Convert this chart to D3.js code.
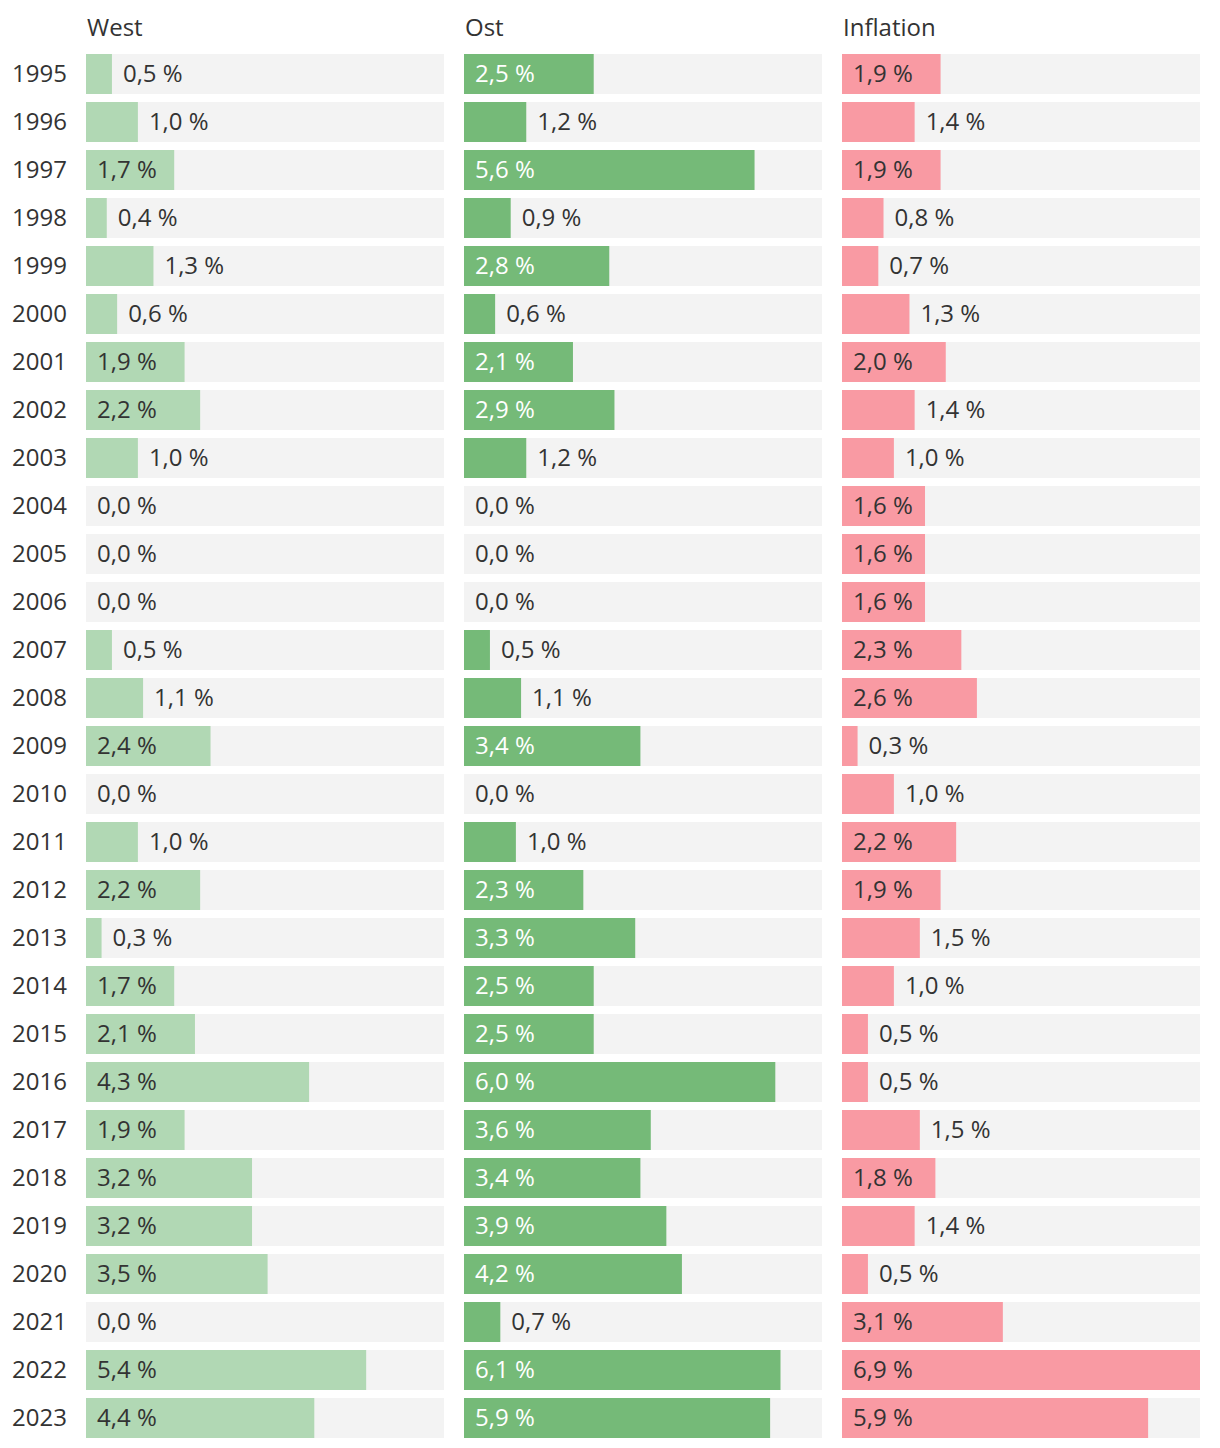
<!DOCTYPE html>
<html><head><meta charset="utf-8">
<script src="https://cdn.jsdelivr.net/npm/d3@7"></script>
<style>body{margin:0;background:#fff;font-family:"Open Sans",sans-serif;}</style>
</head><body><svg id="c" width="1220" height="1448"></svg>
<script>
const years = [1995,1996,1997,1998,1999,2000,2001,2002,2003,2004,2005,2006,2007,2008,2009,2010,2011,2012,2013,2014,2015,2016,2017,2018,2019,2020,2021,2022,2023];
const west = [0.5,1.0,1.7,0.4,1.3,0.6,1.9,2.2,1.0,0,0,0,0.5,1.1,2.4,0,1.0,2.2,0.3,1.7,2.1,4.3,1.9,3.2,3.2,3.5,0,5.4,4.4];
const ost = [2.5,1.2,5.6,0.9,2.8,0.6,2.1,2.9,1.2,0,0,0,0.5,1.1,3.4,0,1.0,2.3,3.3,2.5,2.5,6.0,3.6,3.4,3.9,4.2,0.7,6.1,5.9];
const inflation = [1.9,1.4,1.9,0.8,0.7,1.3,2.0,1.4,1.0,1.6,1.6,1.6,2.3,2.6,0.3,1.0,2.2,1.9,1.5,1.0,0.5,0.5,1.5,1.8,1.4,0.5,3.1,6.9,5.9];
const seriesNames = ["West","Ost","Inflation"];

const panels = [
  {name:seriesNames[0], values:west, color:"#b1d8b4", inText:"#333333", x0:86},
  {name:seriesNames[1], values:ost, color:"#75ba78", inText:"#ffffff", x0:464},
  {name:seriesNames[2], values:inflation, color:"#f99aa3", inText:"#333333", x0:842}
];
const panelW = 358;
const svg = d3.select("#c");
const yb = d3.scaleBand().domain(years).range([54, 54+48*years.length-8]).paddingInner(0.1667);
const x = d3.scaleLinear().domain([0, 6.9]).range([0, panelW]);
const fmt = v => d3.format(".1f")(v).replace(".", ",") + " %";
const fs = 24;

svg.append("g").selectAll("text").data(years).join("text")
  .attr("x", 12).attr("y", d => yb(d)+yb.bandwidth()/2)
  .attr("dy","0.35em").attr("font-size",fs).attr("fill","#333").text(d=>d);

panels.forEach(p => {
  const g = svg.append("g").attr("transform", `translate(${p.x0},0)`);
  g.append("text").attr("x",1).attr("y",36).attr("font-size",fs).attr("fill","#333").text(p.name);
  g.selectAll("rect.bg").data(years).join("rect").attr("class","bg")
    .attr("x",0).attr("y",d=>yb(d)).attr("width",panelW).attr("height",yb.bandwidth()).attr("fill","#f3f3f3");
  g.selectAll("rect.bar").data(years).join("rect").attr("class","bar")
    .attr("x",0).attr("y",d=>yb(d)).attr("width",(d,i)=>x(p.values[i])).attr("height",yb.bandwidth()).attr("fill",p.color);
  g.selectAll("text.v").data(years).join("text").attr("class","v")
    .attr("x",(d,i)=>{const w=x(p.values[i]); return w>=80 ? 11 : w+11;})
    .attr("y",d=>yb(d)+yb.bandwidth()/2).attr("dy","0.35em").attr("font-size",fs)
    .attr("fill",(d,i)=> x(p.values[i])>=80 ? p.inText : "#333")
    .text((d,i)=>fmt(p.values[i]));
});
</script></body></html>
